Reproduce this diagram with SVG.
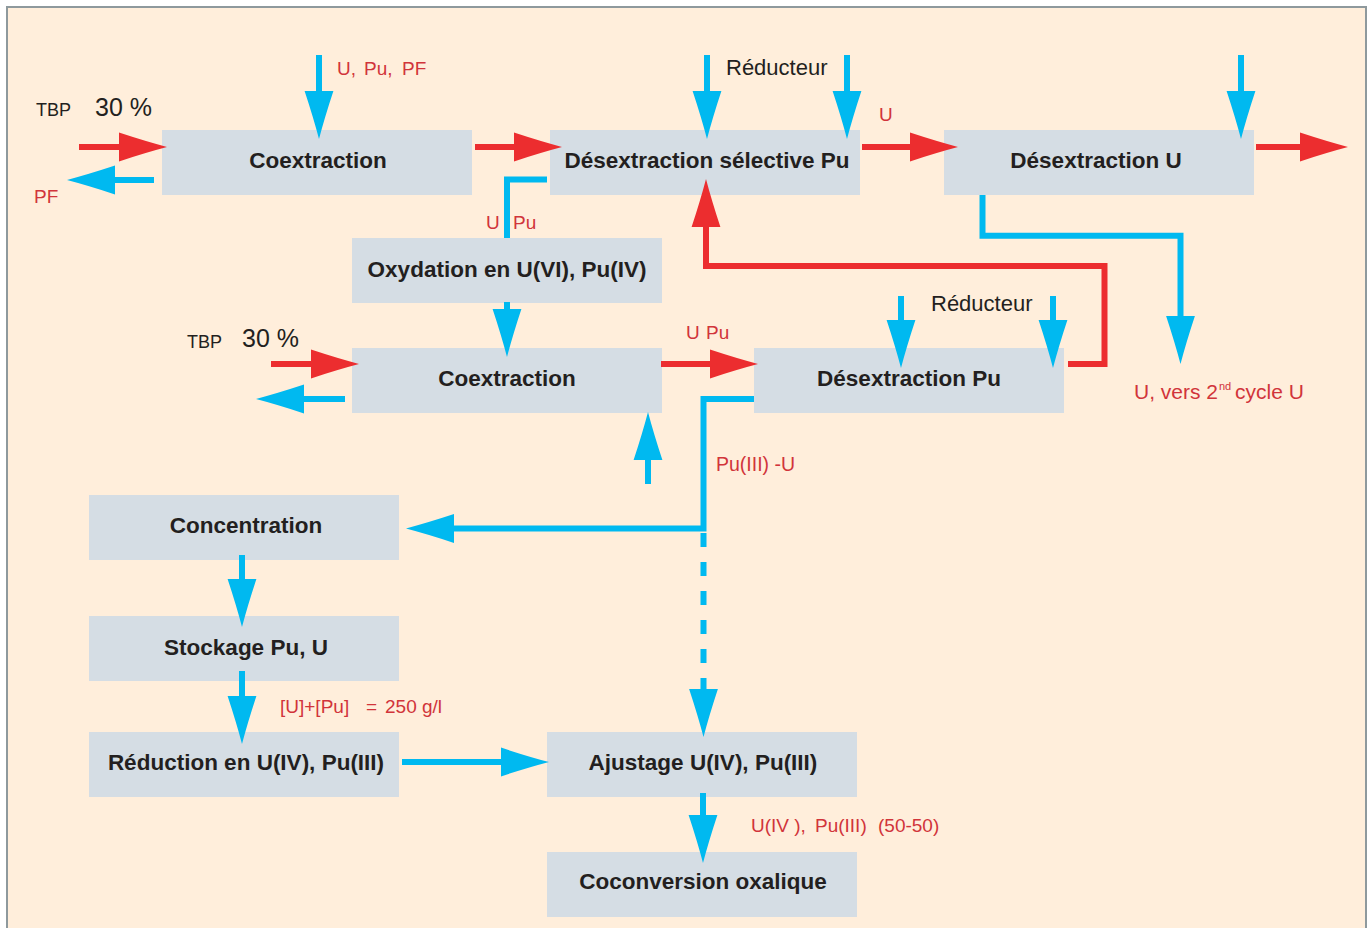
<svg xmlns="http://www.w3.org/2000/svg" width="1371" height="928" viewBox="0 0 1371 928">
<style>
.box{fill:#D5DDE4}
.bt{font-family:"Liberation Sans",Arial,sans-serif;font-weight:bold;font-size:22.5px;fill:#231F20;text-anchor:middle}
.lr{font-family:"Liberation Sans",Arial,sans-serif;font-size:19px;fill:#D1343A}
.lk{font-family:"Liberation Sans",Arial,sans-serif;fill:#231F20}
.b{fill:none;stroke:#00B9F0;stroke-width:6;stroke-linejoin:miter}
.r{fill:none;stroke:#EC2D2F;stroke-width:6;stroke-linejoin:miter}
.ba{marker-end:url(#hb)}
.ra{marker-end:url(#hr)}
</style>
<defs>
<marker id="hb" markerUnits="userSpaceOnUse" viewBox="0 0 50 30" markerWidth="50" markerHeight="30" refX="1" refY="15" orient="auto">
<path d="M0,0.6 Q27,9.5 48,15 Q27,20.5 0,29.4 Z" fill="#00B9F0"/>
</marker>
<marker id="hr" markerUnits="userSpaceOnUse" viewBox="0 0 50 30" markerWidth="50" markerHeight="30" refX="1" refY="15" orient="auto">
<path d="M0,0.6 Q27,9.5 48,15 Q27,20.5 0,29.4 Z" fill="#EC2D2F"/>
</marker>
</defs>
<rect x="0" y="0" width="1371" height="928" fill="#FFFFFF"/>
<rect x="7" y="7" width="1359" height="940" fill="#FFEEDB" stroke="#8E999D" stroke-width="2"/>

<g id="n-coextraction1"><rect class="box" x="162" y="130" width="310" height="65"/><text class="bt" x="318" y="168">Coextraction</text></g>
<g id="n-desextraction-selective-pu"><rect class="box" x="550" y="130" width="310" height="65"/><text class="bt" x="707" y="168">Désextraction sélective Pu</text></g>
<g id="n-desextraction-u"><rect class="box" x="944" y="130" width="310" height="65"/><text class="bt" x="1096" y="168">Désextraction U</text></g>
<g id="n-oxydation"><rect class="box" x="352" y="238" width="310" height="65"/><text class="bt" x="507" y="277">Oxydation en U(VI), Pu(IV)</text></g>
<g id="n-coextraction2"><rect class="box" x="352" y="348" width="310" height="65"/><text class="bt" x="507" y="386">Coextraction</text></g>
<g id="n-desextraction-pu"><rect class="box" x="754" y="348" width="310" height="65"/><text class="bt" x="909" y="386">Désextraction Pu</text></g>
<g id="n-concentration"><rect class="box" x="89" y="495" width="310" height="65"/><text class="bt" x="246" y="533">Concentration</text></g>
<g id="n-stockage"><rect class="box" x="89" y="616" width="310" height="65"/><text class="bt" x="246" y="655">Stockage Pu, U</text></g>
<g id="n-reduction"><rect class="box" x="89" y="732" width="310" height="65"/><text class="bt" x="246" y="770">Réduction en U(IV), Pu(III)</text></g>
<g id="n-ajustage"><rect class="box" x="547" y="732" width="310" height="65"/><text class="bt" x="703" y="770">Ajustage U(IV), Pu(III)</text></g>
<g id="n-coconversion"><rect class="box" x="547" y="852" width="310" height="65"/><text class="bt" x="703" y="889">Coconversion oxalique</text></g>

<g id="connectors">
<path class="b ba" d="M319,55 V92"/>
<path class="r ra" d="M79,147 H120"/>
<path class="b ba" d="M154,180 H114"/>
<path class="r ra" d="M475,147 H515"/>
<path class="b ba" d="M707,55 V92"/>
<path class="b ba" d="M847,55 V92"/>
<path class="r ra" d="M862,147 H911"/>
<path class="b ba" d="M1241,55 V92"/>
<path class="r ra" d="M1256,147 H1301"/>
<path class="b ba" d="M982.5,195 V235.7 H1180.5 V317"/>
<path class="b" d="M547,179.5 H507 V238"/>
<path class="r ra" d="M1068,364 H1104.5 V266 H706 V226"/>
<path class="b ba" d="M507,302 V310"/>
<path class="r ra" d="M271,364 H312"/>
<path class="b ba" d="M345,399 H303"/>
<path class="b ba" d="M648,484 V459"/>
<path class="r ra" d="M661,364 H711"/>
<path class="b ba" d="M901,296 V321"/>
<path class="b ba" d="M1053,296 V321"/>
<path class="b ba" d="M754,399 H703.5 V528.5 H453"/>
<path class="b ba" d="M703.5,533 V690" stroke-dasharray="14 15"/>
<path class="b ba" d="M242,555 V580"/>
<path class="b ba" d="M242,671 V697"/>
<path class="b ba" d="M402,762 H502"/>
<path class="b ba" d="M703,793 V816"/>
</g>

<g id="labels">
<text class="lk" x="36" y="116" font-size="18">TBP</text>
<text class="lk" x="95" y="116" font-size="25">30 %</text>
<text class="lr" x="34" y="203">PF</text>
<text class="lr" y="75"><tspan x="337">U,</tspan><tspan x="364">Pu,</tspan><tspan x="402">PF</tspan></text>
<text class="lk" x="726" y="75" font-size="22">Réducteur</text>
<text class="lr" x="879" y="121">U</text>
<text class="lr" y="229"><tspan x="486">U</tspan><tspan x="513">Pu</tspan></text>
<text class="lk" x="187" y="348" font-size="18">TBP</text>
<text class="lk" x="242" y="347" font-size="25">30 %</text>
<text class="lr" y="339"><tspan x="686">U</tspan><tspan x="706">Pu</tspan></text>
<text class="lk" x="931" y="311" font-size="22">Réducteur</text>
<text class="lr" y="399" style="font-size:21px"><tspan x="1134">U, vers 2</tspan><tspan x="1219" dy="-9" style="font-size:11px">nd</tspan><tspan x="1235" dy="9">cycle U</tspan></text>
<text class="lr" x="716" y="471" style="font-size:19.5px">Pu(III) -U</text>
<text class="lr" y="713"><tspan x="280">[U]+[Pu]</tspan><tspan x="366">=</tspan><tspan x="385">250 g/l</tspan></text>
<text class="lr" y="832"><tspan x="751">U(IV ),</tspan><tspan x="815">Pu(III)</tspan><tspan x="878">(50-50)</tspan></text>
</g>
</svg>
